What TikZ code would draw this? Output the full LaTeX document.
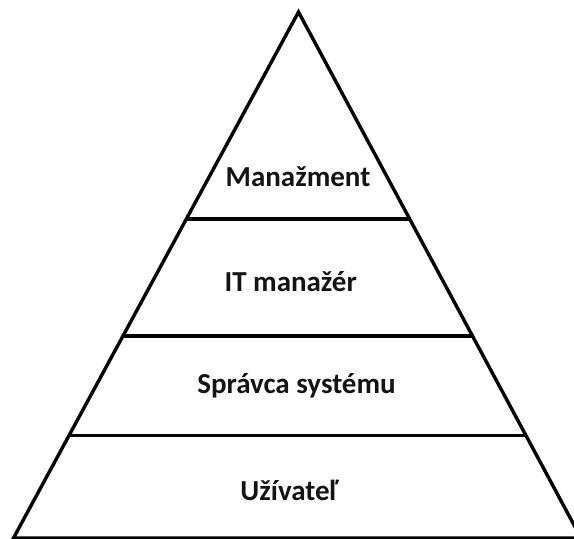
\documentclass[tikz,border=0pt]{standalone}
\usepackage{fontspec}
\setmainfont{Carlito}
\usetikzlibrary{calc}
\begin{document}
\begin{tikzpicture}[x=1pt,y=1pt,
  edge/.style={line width=3.4pt,line join=miter,black},
  level/.style={font=\bfseries\fontsize{29}{33}\selectfont,anchor=base,inner sep=0pt,text=black!92}]
\useasboundingbox (0,0) rectangle (574,539);
\clip (0,0) rectangle (574,539);
\coordinate (apex) at (298.5,527);
\coordinate (bl) at (13.5,1);
\coordinate (br) at (581,1);
\draw[edge] (bl) -- (apex) -- (br) -- cycle;
\coordinate (l1) at ($(apex)!0.3935!(bl)$);
\coordinate (r1) at ($(apex)!0.3935!(br)$);
\coordinate (l2) at ($(apex)!0.616!(bl)$);
\coordinate (r2) at ($(apex)!0.616!(br)$);
\coordinate (l3) at ($(apex)!0.805!(bl)$);
\coordinate (r3) at ($(apex)!0.805!(br)$);
\draw[edge] (l1) -- (r1);
\draw[edge] (l2) -- (r2);
\draw[edge] (l3) -- (r3);
\node[level] (m) at (298,352.3) {Manažment};
\node[level] (it) at (290.7,247.3) {IT manažér};
\node[level] (s) at (296.5,145.7) {Správca systému};
\node[level] (u) at (289.5,38) {Užívateľ};
\end{tikzpicture}
\end{document}
